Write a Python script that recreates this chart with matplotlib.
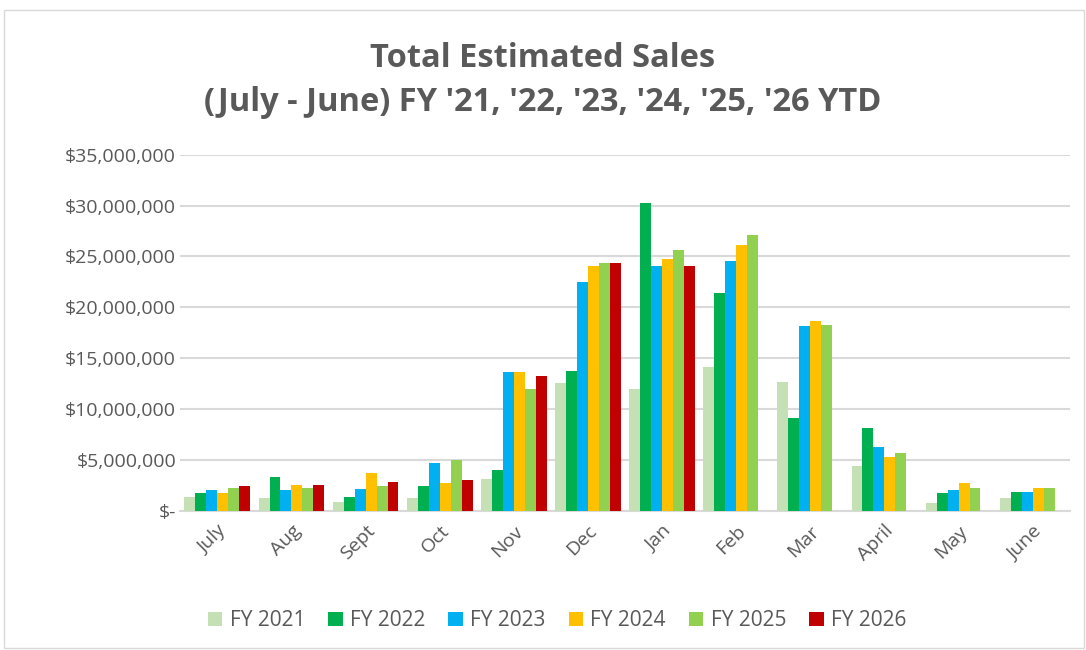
import numpy as np
import matplotlib
matplotlib.use('Agg')
import matplotlib.pyplot as plt
from matplotlib.ticker import FuncFormatter
from matplotlib.patches import Rectangle

plt.rcParams['font.family'] = ['Open Sans', 'DejaVu Sans']

months = ['July', 'Aug', 'Sept', 'Oct', 'Nov', 'Dec',
          'Jan', 'Feb', 'Mar', 'April', 'May', 'June']
series = ['FY 2021', 'FY 2022', 'FY 2023', 'FY 2024', 'FY 2025', 'FY 2026']
colors = ['#C5E0B4', '#00B050', '#00B0F0', '#FFC000', '#92D050', '#C00000']

nan = np.nan
fy2021 = [1.41, 1.25, 0.92, 1.28, 3.10, 12.52, 11.97, 14.13, 12.66, 4.44, 0.82, 1.25]
fy2022 = [1.74, 3.34, 1.38, 2.46, 4.00, 13.70, 30.26, 21.38, 9.15, 8.12, 1.74, 1.87]
fy2023 = [2.07, 2.07, 2.16, 4.66, 13.64, 22.49, 24.07, 24.56, 18.16, 6.31, 2.07, 1.84]
fy2024 = [1.77, 2.56, 3.70, 2.79, 13.64, 24.07, 24.75, 26.13, 18.69, 5.33, 2.73, 2.24]
fy2025 = [2.23, 2.26, 2.49, 4.98, 11.97, 24.33, 25.64, 27.11, 18.30, 5.69, 2.27, 2.24]
fy2026 = [2.46, 2.59, 2.82, 3.02, 13.25, 24.33, 24.07, nan, nan, nan, nan, nan]
values = [fy2021, fy2022, fy2023, fy2024, fy2025, fy2026]

fig = plt.figure(figsize=(10.86, 6.5), dpi=100)
ax = fig.add_axes([0.166, 0.214, 0.819, 0.548])

x = np.arange(len(months))
w = 0.148
for i, (name, vals, c) in enumerate(zip(series, values, colors)):
    ax.bar(x + (i - 2.5) * w, np.array(vals) * 1e6, width=w, color=c,
           label=name, zorder=3)

ax.set_ylim(0, 35e6)
ax.set_xlim(-0.5, 11.5)
ax.set_yticks(np.arange(0, 35e6 + 1, 5e6))
ax.yaxis.set_major_formatter(FuncFormatter(
    lambda v, p: '$-' if v == 0 else '${:,.0f}'.format(v)))
ax.set_xticks(x)
ax.set_xticklabels(months, rotation=45, ha='right', rotation_mode='anchor')
ax.grid(axis='y', color='#D9D9D9', linewidth=1.5, zorder=0)
for s in ['top', 'right', 'left']:
    ax.spines[s].set_visible(False)
ax.spines['bottom'].set_color('#D9D9D9')
ax.spines['bottom'].set_linewidth(1.5)
ax.tick_params(length=0, colors='#595959', labelsize=14)
ax.tick_params(axis='x', pad=8)
ax.tick_params(axis='y', pad=3)

fig.text(0.5, 0.91, 'Total Estimated Sales', ha='center', va='center',
         fontsize=23.5, fontweight='bold', color='#595959')
fig.text(0.5, 0.842, "(July - June) FY '21, '22, '23, '24, '25, '26 YTD",
         ha='center', va='center', fontsize=23.5, fontweight='bold', color='#595959')

fig.legend(loc='center', bbox_to_anchor=(0.513, 0.045), ncol=6, frameon=False,
           fontsize=15, labelcolor='#595959', handlelength=0.7, handleheight=0.7,
           handletextpad=0.35, columnspacing=1.1)

fig.patches.append(Rectangle((4 / 1086, 2 / 650), 1080 / 1086, 638 / 650,
                             transform=fig.transFigure, fill=False,
                             edgecolor='#D9D9D9', linewidth=1))

fig.savefig('out.png', dpi=100)
